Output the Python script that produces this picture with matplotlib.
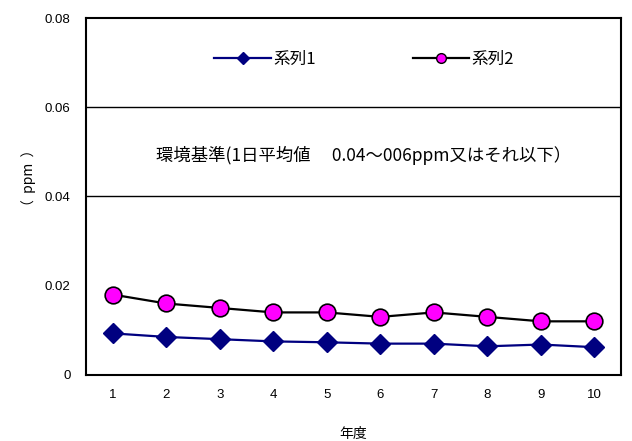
import matplotlib
matplotlib.use("Agg")
import matplotlib.pyplot as plt
from matplotlib.lines import Line2D

# Annual mean concentrations (ppm)
years = [1, 2, 3, 4, 5, 6, 7, 8, 9, 10]
series1 = [0.0093, 0.0085, 0.0080, 0.0075, 0.0073, 0.0070, 0.0070, 0.0064, 0.0068, 0.0062]
series2 = [0.018, 0.016, 0.015, 0.014, 0.014, 0.013, 0.014, 0.013, 0.012, 0.012]
series_names = ["系列1", "系列2"]
standard_band = [0.04, 0.06]
y_ticks = [0, 0.02, 0.04, 0.06, 0.08]
y_tick_labels = ["0", "0.02", "0.04", "0.06", "0.08"]
note = "環境基準(1日平均値\u3000 0.04～006ppm又はそれ以下）"

JP = ["Noto Sans CJK JP", "DejaVu Sans"]
LAT = ["Liberation Sans", "DejaVu Sans"]

fig = plt.figure(figsize=(6.32, 4.41), dpi=100)
ax = fig.add_axes([0.136, 0.150, 0.847, 0.809])

for v in standard_band:
    ax.axhline(v, color="black", linewidth=1.0, zorder=1)

ax.plot(years, series1, color="#000080", linewidth=1.6, marker="D",
        markersize=10, markerfacecolor="#000080", markeredgecolor="#000080",
        zorder=3)
ax.plot(years, series2, color="black", linewidth=1.6, marker="o",
        markersize=12, markerfacecolor="#FF00FF", markeredgecolor="black",
        markeredgewidth=1.2, zorder=3)

ax.set_xlim(0.5, 10.5)
ax.set_ylim(0, 0.08)
ax.set_xticks(years)
ax.set_xticklabels([str(y) for y in years], fontfamily=LAT, fontsize=9.5)
ax.set_yticks(y_ticks)
ax.set_yticklabels(y_tick_labels, fontfamily=LAT, fontsize=9.5)
ax.tick_params(length=0, pad=11)
ax.tick_params(axis="x", pad=10)

for s in ax.spines.values():
    s.set_linewidth(1.5)
    s.set_color("black")

ax.set_xlabel("年度", fontfamily=JP, fontsize=10, labelpad=19)
fig.text(0.045, 0.596, "（  ppm  ）", rotation=90, ha="center", va="center",
         fontfamily=JP, fontsize=10)

ax.text(5.68, 0.0493, note, ha="center", va="center", fontfamily=JP,
        fontsize=12.5)

handles = [
    Line2D([], [], color="#000080", linewidth=1.6, marker="D", markersize=6,
           markerfacecolor="#000080", markeredgecolor="#000080"),
    Line2D([], [], color="black", linewidth=1.6, marker="o", markersize=7,
           markerfacecolor="#FF00FF", markeredgecolor="black"),
]
leg = ax.legend(handles, series_names, loc="upper center", ncol=2,
                bbox_to_anchor=(0.52, 0.95), frameon=False, handlelength=3.4,
                columnspacing=5.8, handletextpad=0.15,
                prop={"family": JP, "size": 12})

fig.savefig("out.png", dpi=100)
